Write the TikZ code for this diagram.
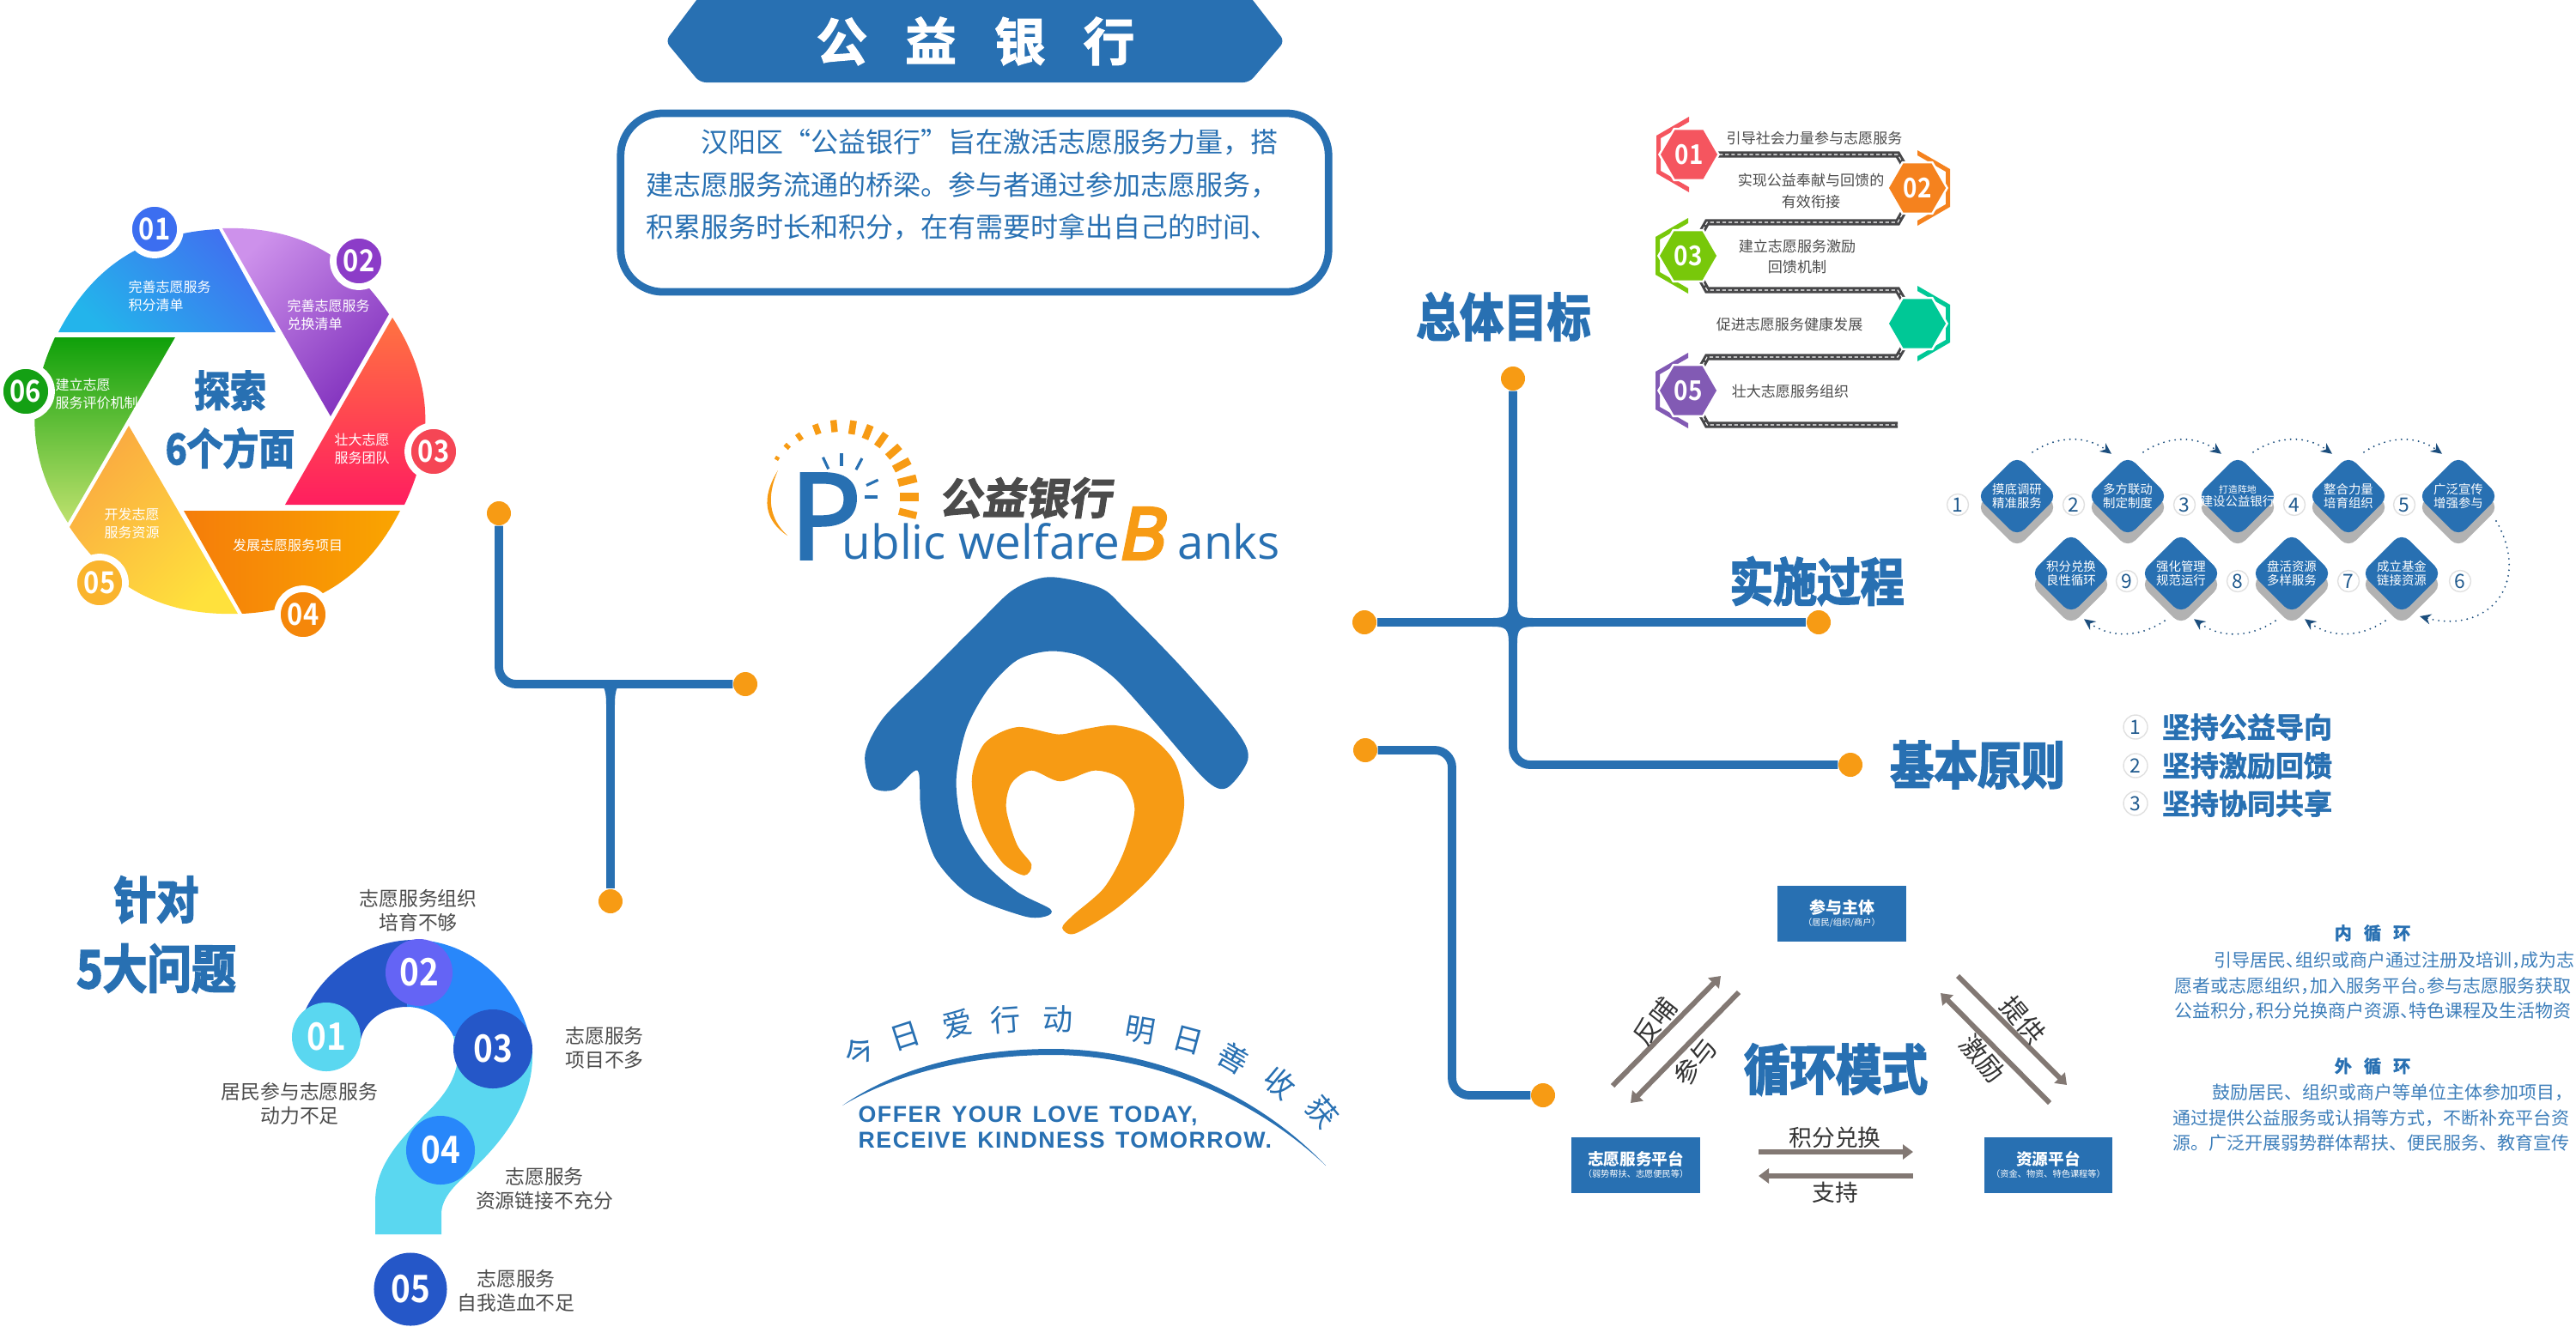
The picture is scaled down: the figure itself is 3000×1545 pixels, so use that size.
\documentclass[tikz,border=0pt]{standalone}
\usepackage{fontspec}
\usepackage{xcolor}
\usepackage{tikz}
\usetikzlibrary{shapes.geometric, arrows.meta, backgrounds}
\setmainfont{Noto Sans CJK SC}
\newfontfamily\heavyfont[FakeBold=3,FakeStretch=.85]{Noto Sans CJK SC Bold}
\newfontfamily\numfont[FakeStretch=.88]{Noto Sans CJK SC Bold}
\newfontfamily\strongfont[FakeBold=2]{Noto Sans CJK SC Bold}
\newfontfamily\tiltfont[FakeBold=2.5,FakeSlant=.15]{Noto Sans CJK SC Bold}
\newfontfamily\logofont{Open Sans}
\newfontfamily\logotall[FakeBold=2.5]{Open Sans}
\newfontfamily\logobold[FakeSlant=.2,FakeBold=5]{Open Sans}
\newfontfamily\slogfont[LetterSpace=5.5,BoldFeatures={LetterSpace=5.5}]{Liberation Sans}
\newcommand{\fz}[2]{\fontsize{#1}{#2}\selectfont}
\newcommand{\hp}{\kern-.5em}
\definecolor{bankblue}{RGB}{40,112,178}
\definecolor{bankorange}{RGB}{247,155,20}
\definecolor{textgray}{RGB}{75,75,75}
\definecolor{roadgray}{RGB}{70,70,72}
\definecolor{flowgray}{RGB}{130,120,115}
\definecolor{qdark}{RGB}{37,87,200}
\definecolor{qblue}{RGB}{40,135,250}
\definecolor{qcyan}{RGB}{90,215,240}
\definecolor{qviolet}{RGB}{100,100,245}
\definecolor{goalred}{RGB}{245,85,95}
\definecolor{goalorange}{RGB}{245,130,30}
\definecolor{goalgreen}{RGB}{120,200,10}
\definecolor{goalteal}{RGB}{0,200,150}
\definecolor{goalpurple}{RGB}{130,90,180}

\begin{document}
\begin{tikzpicture}[
    x=0.01cm, y=-0.01cm,
    % Node styles
    dot/.style={circle, fill=bankorange, minimum size=0.28cm, inner sep=0pt},
    link/.style={draw=bankblue, line width=2.8pt, rounded corners=5.7pt},
    wheelnum/.style={circle, draw=white, line width=2.2pt, minimum size=0.6cm, inner sep=0pt,
                     text=white, font=\numfont\fz{10}{12}},
    wheeltext/.style={text=white, align=left, inner sep=0pt, font=\fz{4.55}{5.8}},
    title/.style={text=bankblue, inner sep=0pt, font=\heavyfont\fz{17}{20}},
    qnum/.style={circle, minimum size=0.8cm, inner sep=0pt, text=white, font=\numfont\fz{12.5}{15}},
    qtext/.style={text=textgray, align=center, inner sep=0pt, font=\fz{6.5}{8.1}},
    goalhalo/.style={regular polygon, regular polygon sides=6, fill=white, minimum size=0.72cm, inner sep=0pt},
    goalhex/.style={regular polygon, regular polygon sides=6, minimum size=0.66cm, inner sep=0pt,
                    text=white, font=\numfont\fz{9}{11}},
    goaltext/.style={text=textgray, align=center, inner sep=0pt, font=\fz{4.85}{7.1}},
    road/.style={draw=roadgray, line width=2pt, postaction={draw=white, line width=.3pt, dash pattern=on 1.2pt off .8pt}},
    stepbox/.style={diamond, aspect=1, rounded corners=3.5pt, minimum size=0.95cm, inner sep=0pt, fill=bankblue},
    stepshade/.style={diamond, aspect=1, rounded corners=3.5pt, minimum size=0.95cm, inner sep=0pt, fill=black!30},
    steptext/.style={text=white, align=center, inner sep=0pt, font=\fz{4.1}{4.3}},
    stepnum/.style={circle, draw=black!12, fill=white, minimum size=0.25cm, inner sep=0pt,
                    text=bankblue!80!black, font=\fz{6.5}{8}},
    hop/.style={draw=bankblue!70!black, line width=.6pt, line cap=round, dash pattern=on 0pt off 1.9pt,
                -{Stealth[length=1.3mm,width=1.2mm]}},
    rule/.style={text=bankblue, anchor=west, inner sep=0pt, font=\strongfont\fz{9.4}{11}},
    bodytext/.style={text=bankblue!90!white, anchor=north west, align=left, inner sep=0pt, font=\fz{5.97}{8.45}},
    subhead/.style={text=bankblue, inner sep=0pt, font=\strongfont\fz{5.7}{7}},
    cyclebox/.style={rectangle, fill=bankblue, text=white, minimum width=1.49cm, minimum height=0.65cm,
                     inner sep=0pt, align=center, font=\fz{2.9}{4}},
    flow/.style={draw=flowgray, line width=1.7pt, -{Triangle[length=1.2mm,width=1.7mm]}},
    flowtext/.style={text=black!80, inner sep=0pt, font=\fz{7.6}{9}}
]
\useasboundingbox (0,0) rectangle (3000,1545);

% Banner
\fill[bankblue, rounded corners=2pt] (815,-5) -- (1455,-5) -- (1496,48) -- (1455,96) -- (815,96) -- (775,48) -- cycle;
\node (banner) [text=white, inner sep=0pt, font=\strongfont\fz{17}{20}] at (1136,48) {公\hspace{12.5pt}益\hspace{12.5pt}银\hspace{12.5pt}行};

% Intro box
\node (introbox) [rectangle, draw=bankblue, line width=2.5pt, rounded corners=14pt, minimum width=8.24cm, minimum height=2.08cm] at (1135,236) {};
\node (introtext) [anchor=north west, text=bankblue, align=left, inner sep=0pt, font=\fz{9.1}{14}] at (752,150)
    {\hspace*{2em}汉阳区“公益银行”旨在激活志愿服务力量，搭\\建志愿服务流通的桥梁。参与者通过参加志愿服务，\\积累服务时长和积分，在有需要时拿出自己的时间、};

% Wheel
\shade[left color={rgb,255:red,35;green,180;blue,235}, right color={rgb,255:red,65;green,110;blue,240}, shading angle=135]
    (68,387) to[bend left=30] (255,267) -- (321,387) -- cycle;
\shade[left color={rgb,255:red,205;green,145;blue,235}, right color={rgb,255:red,130;green,50;blue,190}, shading angle=45]
    (259,266) to[bend left=29] (453,366) -- (385,485) -- cycle;
\shade[top color={rgb,255:red,255;green,115;blue,65}, bottom color={rgb,255:red,255;green,30;blue,95}]
    (457,370) to[bend left=29] (471,588) -- (332,588) -- cycle;
\shade[left color={rgb,255:red,245;green,125;blue,10}, right color={rgb,255:red,250;green,165;blue,0}]
    (466,595) to[bend left=30] (282,715) -- (214,595) -- cycle;
\shade[left color={rgb,255:red,250;green,170;blue,65}, right color={rgb,255:red,255;green,225;blue,60}, shading angle=45]
    (277,715) to[bend left=29] (81,614) -- (150,496) -- cycle;
\shade[top color={rgb,255:red,15;green,160;blue,10}, bottom color={rgb,255:red,190;green,225;blue,110}]
    (79,609) to[bend left=29] (64,393) -- (204,393) -- cycle;

\node (w1) [wheelnum, fill={rgb,255:red,60;green,110;blue,240}] at (180,267) {01};
\node (w2) [wheelnum, fill={rgb,255:red,140;green,60;blue,200}] at (418,304) {02};
\node (w3) [wheelnum, fill={rgb,255:red,245;green,70;blue,85}] at (505,526) {03};
\node (w4) [wheelnum, fill={rgb,255:red,245;green,135;blue,10}] at (353,716) {04};
\node (w5) [wheelnum, fill={rgb,255:red,250;green,180;blue,45}] at (116,679) {05};
\node (w6) [wheelnum, fill={rgb,255:red,20;green,160;blue,20}] at (30,456) {06};

\node[wheeltext, anchor=west] at (149,345) {完善志愿服务\\积分清单};
\node[wheeltext, anchor=west] at (334,367) {完善志愿服务\\兑换清单};
\node[wheeltext, anchor=west] at (389,523) {壮大志愿\\服务团队};
\node[wheeltext] at (335,635) {发展志愿服务项目};
\node[wheeltext, anchor=west] at (121,610) {开发志愿\\服务资源};
\node[wheeltext, anchor=west] at (64,459) {建立志愿\\服务评价机制};
\node[title, font=\heavyfont\fz{14}{16}] at (268,455) {探索};
\node[title, font=\heavyfont\fz{14}{16}] at (268,522) {6个方面};

% Left tree
\node (dotA) [dot] at (581,598) {};
\node (dotB) [dot] at (868,797) {};
\node (dotC) [dot] at (711,1050) {};
\coordinate (jleft) at (711,797);
\begin{scope}[on background layer]
\draw[link] (dotA) |- (dotB);
\draw[link] (jleft) -- (dotC);
\fill[bankblue, shift={(711,797)}] (-22,-4) -- (22,-4) .. controls (8,-4) and (5,6) .. (5,24) -- (-5,24) .. controls (-5,6) and (-8,-4) .. (-22,-4) -- cycle;
\end{scope}

% Question mark
\node[title, font=\heavyfont\fz{16.5}{20}] at (182,1048) {针对};
\node[title, font=\heavyfont\fz{17.3}{20}] at (182,1128) {5大问题};
\fill[qdark] (349,1193) .. controls (368,1135) and (425,1095) .. (482,1095) -- (474,1173) .. controls (445,1173) and (425,1190) .. (420,1211) -- (395,1240) -- cycle;
\fill[qblue] (482,1095) .. controls (550,1095) and (610,1150) .. (620,1225) -- (528,1207) .. controls (520,1190) and (500,1173) .. (474,1173) -- cycle;
\fill[qcyan] (620,1225) .. controls (622,1280) and (590,1325) .. (551,1362) .. controls (530,1380) and (514,1395) .. (514,1415) -- (514,1438) -- (437,1438) -- (437,1400) .. controls (437,1355) and (470,1325) .. (492,1301) .. controls (515,1280) and (530,1260) .. (533,1235) -- (528,1207) -- cycle;
\node (q1) [qnum, fill=qcyan] at (380,1208) {01};
\node (q2) [qnum, fill=qviolet, minimum size=0.78cm] at (488,1133) {02};
\node (q3) [qnum, fill=qdark, minimum size=0.92cm] at (574,1222) {03};
\node (q4) [qnum, fill=qblue] at (513,1340) {04};
\node (q5) [qnum, fill=qdark, minimum size=0.85cm] at (478,1502) {05};
\node[qtext] at (487,1061) {志愿服务组织\\培育不够};
\node[qtext] at (704,1221) {志愿服务\\项目不多};
\node[qtext] at (349,1286) {居民参与志愿服务\\动力不足};
\node[qtext] at (634,1385) {志愿服务\\资源链接不充分};
\node[qtext] at (601,1504) {志愿服务\\自我造血不足};

% Logo lettering
\node[anchor=base west, inner sep=0pt, text=bankblue, font=\logotall\fz{39.5}{40}] at (919,651) {P};
\node[anchor=base west, inner sep=0pt, text=bankblue, font=\logofont\fz{15.6}{18}] at (980,651) {ublic welfare};
\node[anchor=base west, inner sep=0pt, text=bankorange, font=\logobold\fz{23.5}{26}] at (1300,651) {B};
\node[anchor=base west, inner sep=0pt, text=bankblue, font=\logofont\fz{15.6}{18}] at (1371,651) {anks};
\node[inner sep=0pt, text=textgray, font=\tiltfont\fz{14.3}{16}] at (1194,580) {公益银行};
\begin{scope}[shift={(980,579)}]
\foreach \a/\l/\w in {-14/69/2.4, 0/68/2.6, 14/68/2.6, 28/69/2.5, 41/71/2.4, 55/72/2.3, 68/73/2.3, 81/74/2.2, 96/76/2.1, 110/78/2, 125/81/1.7, 137/83/1.4, 149/85/1.2}
    \draw[bankorange, line width=\w pt] (-\a:\l) -- (-\a:90);
\foreach \a/\r in {90/36, 62/36, 115/36, 25/32, 150/38, 0/27}
    \draw[bankblue, line width=.9pt] (-\a:\r) -- (-\a:\r+15);
\end{scope}
\fill[bankorange] (906,548) .. controls (886,580) and (890,606) .. (917,624) .. controls (896,604) and (892,580) .. (906,548) -- cycle;

% House
\begin{scope}[shift={(860,470)}, x=0.00421cm, y=-0.00421cm]
\fill[bankblue] plot[smooth cycle, tension=.5] coordinates {(860,480) (1000,510) (1070,570) (1230,735) (1380,910) (1408,985) (1350,1063) (1290,1040) (1150,880) (1040,760) (950,700) (860,685) (770,710) (690,790) (630,900) (602,1040) (620,1170) (680,1270) (770,1350) (862,1398) (850,1418) (790,1418) (640,1360) (545,1260) (505,1130) (495,1015) (430,1068) (370,1060) (350,970) (400,870) (520,750) (660,610) (760,515)};
\fill[bankorange] plot[smooth cycle, tension=.5] coordinates {(885,915) (960,900) (1040,890) (1130,915) (1205,990) (1232,1100) (1210,1210) (1140,1310) (1040,1400) (930,1466) (895,1450) (925,1415) (1010,1340) (1065,1240) (1095,1120) (1060,1040) (985,1015) (890,1045) (810,1015) (755,1050) (740,1120) (770,1220) (810,1275) (790,1305) (730,1270) (670,1170) (645,1040) (680,940) (770,895)};
\end{scope}

% Slogan
\foreach \x/\y/\r/\c in {1001/1225/38/今, 1054/1207/18/日, 1115/1193/12/爱, 1171/1188/4/行, 1232/1187/0/动, 1328/1200/-10/明, 1384/1212/-15/日, 1436/1233/-30/善, 1491/1262/-40/收, 1540/1295/-50/获}
    \node[text=bankblue, rotate=\r, inner sep=0pt, font=\fz{10}{11}] at (\x,\y) {\c};
\fill[bankblue] (981,1288) .. controls (1050,1240) and (1140,1222) .. (1226,1222) .. controls (1340,1222) and (1460,1270) .. (1544,1358) .. controls (1460,1278) and (1340,1229) .. (1226,1229) .. controls (1140,1229) and (1050,1247) .. (981,1288) -- cycle;
\node[anchor=base west, text=bankblue, align=left, inner sep=0pt, font=\slogfont\bfseries\fz{7.6}{8.3}] at (999,1337) {OFFER\hspace{1pt} YOUR\hspace{1pt} LOVE\hspace{1pt} TODAY,\\RECEIVE\hspace{1pt} KINDNESS\hspace{1pt} TOMORROW.};

% Right tree
\node (dotT) [dot] at (1762,441) {};
\node (dotL) [dot] at (1589,725) {};
\node (dotR) [dot] at (2118,725) {};
\node (dotP) [dot] at (2155,891) {};
\node (dotU) [dot] at (1590,874) {};
\node (dotV) [dot] at (1797,1276) {};
\begin{scope}[on background layer]
\draw[link] (dotL) -- (dotR);
\draw[link] (dotT) |- (dotP);
\draw[link] (dotU) -- ++(101,0) |- (dotV);
\fill[bankblue, shift={(1762,725)}] (-24,-5) .. controls (-8,-5) and (-5,-8) .. (-5,-24) -- (5,-24) .. controls (5,-8) and (8,-5) .. (24,-5) -- (24,5) .. controls (8,5) and (5,8) .. (5,24) -- (-5,24) .. controls (-5,8) and (-8,5) .. (-24,5) -- cycle;
\end{scope}
\node[title] at (1751,369) {总体目标};
\node[title] at (2116,677) {实施过程};
\node[title] at (2303,891) {基本原则};

% Goals
\foreach \n/\x/\y/\c/\s/\t in {01/1967/180/goalred/1/01, 02/2233/219/goalorange/-1/02, 03/1966/298/goalgreen/1/03, 04/2233/377/goalteal/-1/, 05/1966/455/goalpurple/1/05}{
    \fill[\c] (\x,\y-44) -- (\x-38*\s,\y-22) -- (\x-38*\s,\y+22) -- (\x,\y+44) -- (\x,\y+38) -- (\x-33*\s,\y+19) -- (\x-33*\s,\y-19) -- (\x,\y-38) -- cycle;
    \node[goalhalo] at (\x,\y) {};
    \node (g\n) [goalhex, fill=\c] at (\x,\y) {\t};
}
\coordinate (roadend) at (2210,495);
\begin{scope}[on background layer]
\draw[road] (g01.center) -- (2210,180) -- (g02.center);
\draw[road] (g02.center) -- (2210,259) -- (1988,259) -- (g03.center);
\draw[road] (g03.center) -- (1988,338) -- (2210,338) -- (g04.center);
\draw[road] (g04.center) -- (2210,416) -- (1988,416) -- (g05.center);
\draw[road] (g05.center) -- (1988,495) -- (roadend);
\end{scope}
\node[goaltext] at (2113,161) {引导社会力量参与志愿服务};
\node[goaltext] at (2109,222) {实现公益奉献与回馈的\\有效衔接};
\node[goaltext] at (2093,299) {建立志愿服务激励\\回馈机制};
\node[goaltext] at (2084,378) {促进志愿服务健康发展};
\node[goaltext] at (2085,456) {壮大志愿服务组织};

% Steps
\foreach \n/\x/\y/\t in {1/2349/578/{摸底调研\\精准服务}, 2/2478/578/{多方联动\\制定制度}, 3/2606/578/{\fz{3.1}{4.3}打造阵地\\建设公益银行}, 4/2735/578/{整合力量\\培育组织}, 5/2863/578/{广泛宣传\\增强参与}, 6/2797/668/{成立基金\\链接资源}, 7/2669/668/{盘活资源\\多样服务}, 8/2540/668/{强化管理\\规范运行}, 9/2412/668/{积分兑换\\良性循环}}{
    \node[stepshade] at (\x,\y+13) {};
    \node (d\n) [stepbox] at (\x,\y) {};
    \node[steptext] at (d\n) {\t};
}
\foreach \n/\x/\y in {1/2280/588, 2/2415/588, 3/2544/588, 4/2672/588, 5/2800/588, 6/2865/677, 7/2735/677, 8/2606/677, 9/2477/677}
    \node (n\n) [stepnum] at (\x,\y) {\n};
\foreach \a/\b in {1/2, 2/3, 3/4, 4/5}
    \draw[hop] ([shift={(18,-3)}]d\a.north) to[bend left=35] ([shift={(-19,-1)}]d\b.north);
\draw[hop] ([shift={(44,29)}]d5.center) to[out=-60, in=-15, looseness=1.5] ([shift={(21,50)}]d6.center);
\foreach \a/\b in {6/7, 7/8, 8/9}
    \draw[hop] ([shift={(-19,7)}]d\a.south) to[bend left=35] ([shift={(15,5)}]d\b.south);

% Principles
\foreach \n/\y/\t in {1/847/坚持公益导向, 2/892/坚持激励回馈, 3/936/坚持协同共享}{
    \node (r\n) [stepnum, minimum size=0.28cm] at (2487,\y) {\n};
    \node[rule] at (2517,\y) {\t};
}

% Cycle
\node (part) [cyclebox] at (2145,1064.5) {{\bfseries\fz{5.4}{8}参与主体}\\（居民/组织/商户）};
\node (plat) [cyclebox] at (1905,1357) {{\bfseries\fz{5.3}{8}志愿服务平台}\\（弱势帮扶、志愿便民等）};
\node (res) [cyclebox] at (2385.5,1357) {{\bfseries\fz{5.3}{8}资源平台}\\（资金、物资、特色课程等）};
\node[title, font=\heavyfont\fz{17.9}{20}] at (2138,1246) {循环模式};
\draw[flow] ([shift={(-27,-92)}]plat.center) -- ([shift={(-141,72.5)}]part.center);
\draw[flow] ([shift={(-120,91.5)}]part.center) -- ([shift={(-6,-72)}]plat.center);
\draw[flow] ([shift={(135,72.5)}]part.center) -- ([shift={(21.5,-93)}]res.center);
\draw[flow] ([shift={(1.5,-72)}]res.center) -- ([shift={(115,92.5)}]part.center);
\draw[flow] ([shift={(143,-15)}]plat.center) -- ([shift={(-157.5,-15)}]res.center);
\draw[flow] ([shift={(-157.5,13)}]res.center) -- ([shift={(143,13)}]plat.center);
\node[flowtext, rotate=52, font=\fz{8.6}{10}] at (1927,1190) {反哺};
\node[flowtext, rotate=52, font=\fz{8.6}{10}] at (1974,1237) {参与};
\node[flowtext, rotate=-50, font=\fz{8.6}{10}] at (2356,1188) {提供};
\node[flowtext, rotate=-50, font=\fz{8.6}{10}] at (2309,1233) {激励};
\node[flowtext] at (2137,1325) {积分兑换};
\node[flowtext] at (2137,1389) {支持};

% Text block
\node[subhead] at (2763,1087) {内\hspace{4pt}循\hspace{4pt}环};
\node[bodytext] at (2532,1108) {\hspace*{2.2em}引导居民、\hp 组织或商户通过注册及培训，\hp 成为志\\愿者或志愿组织，\hp 加入服务平台。\hp 参与志愿服务获取\\公益积分，\hp 积分兑换商户资源、\hp 特色课程及生活物资};
\node[subhead] at (2763,1242) {外\hspace{4pt}循\hspace{4pt}环};
\node[bodytext] at (2530,1262) {\hspace*{2.2em}鼓励居民、组织或商户等单位主体参加项目，\\通过提供公益服务或认捐等方式，不断补充平台资\\源。广泛开展弱势群体帮扶、便民服务、教育宣传};

\end{tikzpicture}
\end{document}
